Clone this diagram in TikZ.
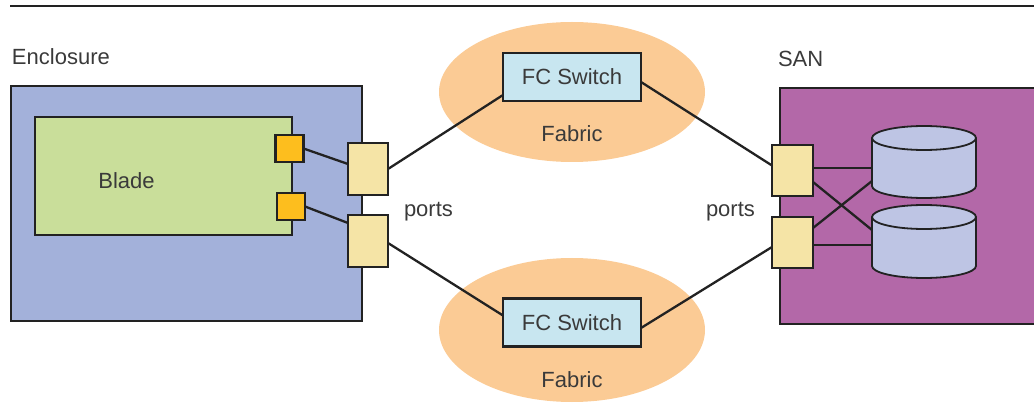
\documentclass[tikz,border=0pt]{standalone}
\usepackage{fontspec}
\setmainfont{Liberation Sans}
\usetikzlibrary{shapes.geometric,calc}
\definecolor{encl}{HTML}{A3B1DA}
\definecolor{blade}{HTML}{C9DE9A}
\definecolor{oport}{HTML}{FDBE1E}
\definecolor{yport}{HTML}{F5E4A6}
\definecolor{fabric}{HTML}{FBCB95}
\definecolor{fcsw}{HTML}{C8E6F0}
\definecolor{san}{HTML}{B368A8}
\definecolor{disk}{HTML}{BEC5E4}
\definecolor{edge}{HTML}{222222}
\definecolor{txt}{HTML}{3A3A3A}
\begin{document}
\begin{tikzpicture}[x=1pt,y=-1pt,
  every node/.style={inner sep=0pt, outer sep=0pt},
  lbl/.style={font=\fontsize{22}{26}\selectfont, text=txt},
  box/.style={rectangle, draw=edge, line width=2.2pt},
  wire/.style={draw=edge, line width=2.3pt},
  diskst/.style={fill=disk, draw=edge, line width=1.8pt}]
\useasboundingbox (0,0) rectangle (1034,406);
% top rule
\draw[edge, line width=2.5pt] (10,6) -- (1034,6);
% labels
\node[lbl, anchor=base west] (enclbl) at (12,65) {Enclosure};
\node[lbl, anchor=base west] (sanlbl) at (778,67) {SAN};
% fabrics
\node[ellipse, fill=fabric, minimum width=266pt, minimum height=140pt] (fab1) at (572,92) {};
\node[ellipse, fill=fabric, minimum width=266pt, minimum height=144pt] (fab2) at (572,330) {};
\node[lbl, anchor=base] (fab1lbl) at (572,142) {Fabric};
\node[lbl, anchor=base] (fab2lbl) at (572,387) {Fabric};
% enclosure & blade
\node[box, fill=encl, minimum width=351pt, minimum height=235pt] (encl) at (186.5,203.5) {};
\node[box, fill=blade, minimum width=257pt, minimum height=118pt] (blade) at (163.5,176) {};
\node[lbl, anchor=base] (bladelbl) at (126.5,189) {Blade};
\node[box, fill=oport, minimum width=28pt, minimum height=27pt] (op1) at (289.5,148.5) {};
\node[box, fill=oport, minimum width=28pt, minimum height=27pt] (op2) at (291,206.5) {};
\node[box, fill=yport, minimum width=40pt, minimum height=52pt] (lp1) at (368,169) {};
\node[box, fill=yport, minimum width=40pt, minimum height=52pt] (lp2) at (368,241) {};
% SAN
\node[box, fill=san, minimum width=270pt, minimum height=236pt] (san) at (915,206) {};
\node[box, fill=yport, minimum width=41pt, minimum height=51pt] (rp1) at (792.5,170.5) {};
\node[box, fill=yport, minimum width=41pt, minimum height=51pt] (rp2) at (792.5,242.5) {};
% disks
\fill[disk] (872,138) rectangle (976,186);
\fill[disk] (924,186) ellipse [x radius=52pt, y radius=12pt];
\draw[edge, line width=1.8pt] (872,138) -- (872,186) arc[start angle=180, end angle=360, x radius=52pt, y radius=12pt] -- (976,138);
\draw[diskst] (924,138) ellipse [x radius=52pt, y radius=12pt];
\fill[disk] (872,217) rectangle (976,266);
\fill[disk] (924,266) ellipse [x radius=52pt, y radius=12pt];
\draw[edge, line width=1.8pt] (872,217) -- (872,266) arc[start angle=180, end angle=360, x radius=52pt, y radius=12pt] -- (976,217);
\draw[diskst] (924,217) ellipse [x radius=52pt, y radius=12pt];
\coordinate (d1a) at (872,168);
\coordinate (d1b) at (872,181);
\coordinate (d2a) at (872,230);
\coordinate (d2b) at (872,245);
% switches
\node[box, fill=fcsw, lbl, minimum width=138pt, minimum height=48pt] (sw1) at (572,77) {FC Switch};
\node[box, fill=fcsw, lbl, minimum width=138pt, minimum height=48pt] (sw2) at (572,322.5) {FC Switch};
% ports labels
\node[lbl, anchor=base west] (pl) at (404,217) {ports};
\node[lbl, anchor=base west] (pr) at (706,217) {ports};
% wires
\draw[wire] (op1.east) -- ($(lp1.west)+(0,-5)$);
\draw[wire] (op2.east) -- ($(lp2.west)+(0,-18)$);
\draw[wire] (lp1.east) -- ($(sw1.west)+(0,18)$);
\draw[wire] ($(sw1.east)+(0,5)$) -- ($(rp1.west)+(0,-5)$);
\draw[wire] ($(lp2.east)+(0,2)$) -- ($(sw2.west)+(0,-7)$);
\draw[wire] ($(sw2.east)+(0,5.5)$) -- ($(rp2.west)+(0,4.5)$);
\draw[wire] ($(rp1.east)+(0,-2.5)$) -- (d1a);
\draw[wire] ($(rp1.east)+(0,11.5)$) -- (d2a);
\draw[wire] ($(rp2.east)+(0,-14.5)$) -- (d1b);
\draw[wire] ($(rp2.east)+(0,2.5)$) -- (d2b);
\end{tikzpicture}
\end{document}
